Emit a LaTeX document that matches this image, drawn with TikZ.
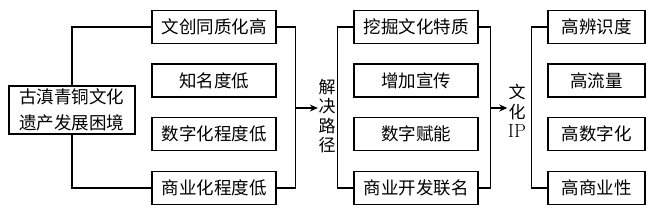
\documentclass[tikz,border=0pt]{standalone}
\usepackage{fontspec}
\newfontfamily\cjk{Noto Sans CJK SC}
\usetikzlibrary{arrows.meta}
\begin{document}
\begin{tikzpicture}[x=1pt,y=-1pt,line width=1.3pt,
  box/.style={draw,minimum height=33pt,inner sep=0pt,font=\cjk\fontsize{17.5}{26}\selectfont},
  boxa/.style={box,minimum width=124pt},
  boxc/.style={box,minimum width=97pt},
  vtext/.style={align=center,inner sep=0pt,font=\cjk\fontsize{17}{19.5}\selectfont},
  arr/.style={-{Stealth[length=8pt,width=7pt]}}]
\useasboundingbox (0,0) rectangle (656,212);
\node[box,minimum width=126pt,minimum height=48pt,align=center] (main) at (72,110) {古滇青铜文化\\遗产发展困境};
\node[boxa] (a1) at (214,27) {文创同质化高};
\node[boxa] (a2) at (214,80.5) {知名度低};
\node[boxa] (a3) at (214,134) {数字化程度低};
\node[boxa] (a4) at (214,188) {商业化程度低};
\node[boxa] (b1) at (416,27) {挖掘文化特质};
\node[boxa] (b2) at (416,80.5) {增加宣传};
\node[boxa] (b3) at (416,134) {数字赋能};
\node[boxa] (b4) at (416,188) {商业开发联名};
\node[boxc] (c1) at (596.5,27) {高辨识度};
\node[boxc] (c2) at (596.5,80.5) {高流量};
\node[boxc] (c3) at (596.5,134) {高数字化};
\node[boxc] (c4) at (596.5,188) {高商业性};
\node[vtext] (jj) at (327,116) {解\\决\\路\\径};
\node[vtext] (ip) at (517,111) {文\\化\\{\rmfamily\fontsize{19}{19.5}\selectfont IP}};
\draw (main.north) |- (a1.west);
\draw (main.south) |- (a4.west);
\draw (a1.east) -- ++(19,0) coordinate (ar1) |- (a4.east);
\coordinate (j1) at (ar1 |- 0,108);
\draw[arr] (j1) -- (jj.west |- j1);
\draw (b1.west) -- ++(-16,0) |- (b4.west);
\draw (b1.east) -- ++(12,0) coordinate (br1) |- (b4.east);
\coordinate (j2) at (br1 |- 0,108);
\draw[arr] (j2) -- (ip.west |- j2);
\draw (c1.west) -- ++(-16,0) |- (c4.west);
\end{tikzpicture}
\end{document}
